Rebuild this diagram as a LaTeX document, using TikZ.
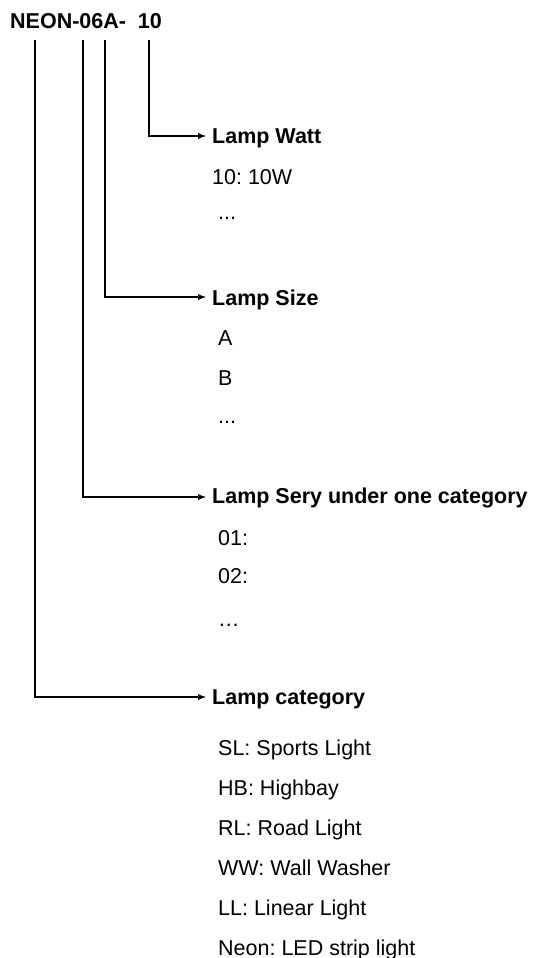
\documentclass[tikz,border=0pt]{standalone}
\usepackage{fontspec}
\setmainfont{Liberation Sans}
\usetikzlibrary{arrows}
\frenchspacing

\begin{document}
\begin{tikzpicture}[x=1pt, y=-1pt,
    head/.style={font=\fontsize{21.5}{25}\selectfont\bfseries, anchor=base west, inner sep=0pt},
    item/.style={font=\fontsize{21.5}{25}\selectfont, anchor=base west, inner sep=0pt},
    conn/.style={line width=1.7pt, -latex}]
    \useasboundingbox (0,0) rectangle (537,958);
    \node[head] (code) at (10,29) {NEON-06A-\ \ 10};
    \coordinate (catTop) at (35,40);
    \coordinate (seryTop) at (83,40);
    \coordinate (sizeTop) at (105,40);
    \coordinate (wattTop) at (149,40);
    % lamp watt
    \node[head] (watt) at (212,143) {Lamp Watt};
    \node[item] (wattA) at (212,184) {10: 10W};
    \node[item] (wattB) at (218,219) {...};
    % lamp size
    \node[head] (size) at (212,305) {Lamp Size};
    \node[item] (sizeA) at (218,345) {A};
    \node[item] (sizeB) at (218,385) {B};
    \node[item] (sizeC) at (218,423) {...};
    % lamp sery
    \node[head] (sery) at (212,503) {Lamp Sery under one category};
    \node[item] (seryA) at (218,545) {01:};
    \node[item] (seryB) at (218,583) {02:};
    \node[item] (seryC) at (218,626) {…};
    % lamp category
    \node[head] (cat) at (212,704) {Lamp category};
    \node[item] (catA) at (218,755) {SL: Sports Light};
    \node[item] (catB) at (218,795) {HB: Highbay};
    \node[item] (catC) at (218,835) {RL: Road Light};
    \node[item] (catD) at (218,875) {WW: Wall Washer};
    \node[item] (catE) at (218,915) {LL: Linear Light};
    \node[item] (catF) at (218,955) {Neon: LED strip light};
    \draw[conn] (wattTop) |- ([xshift=-6pt, yshift=7pt]watt.base west);
    \draw[conn] (sizeTop) |- ([xshift=-6pt, yshift=8pt]size.base west);
    \draw[conn] (seryTop) |- ([xshift=-6pt, yshift=6pt]sery.base west);
    \draw[conn] (catTop) |- ([xshift=-6pt, yshift=7pt]cat.base west);
\end{tikzpicture}
\end{document}
